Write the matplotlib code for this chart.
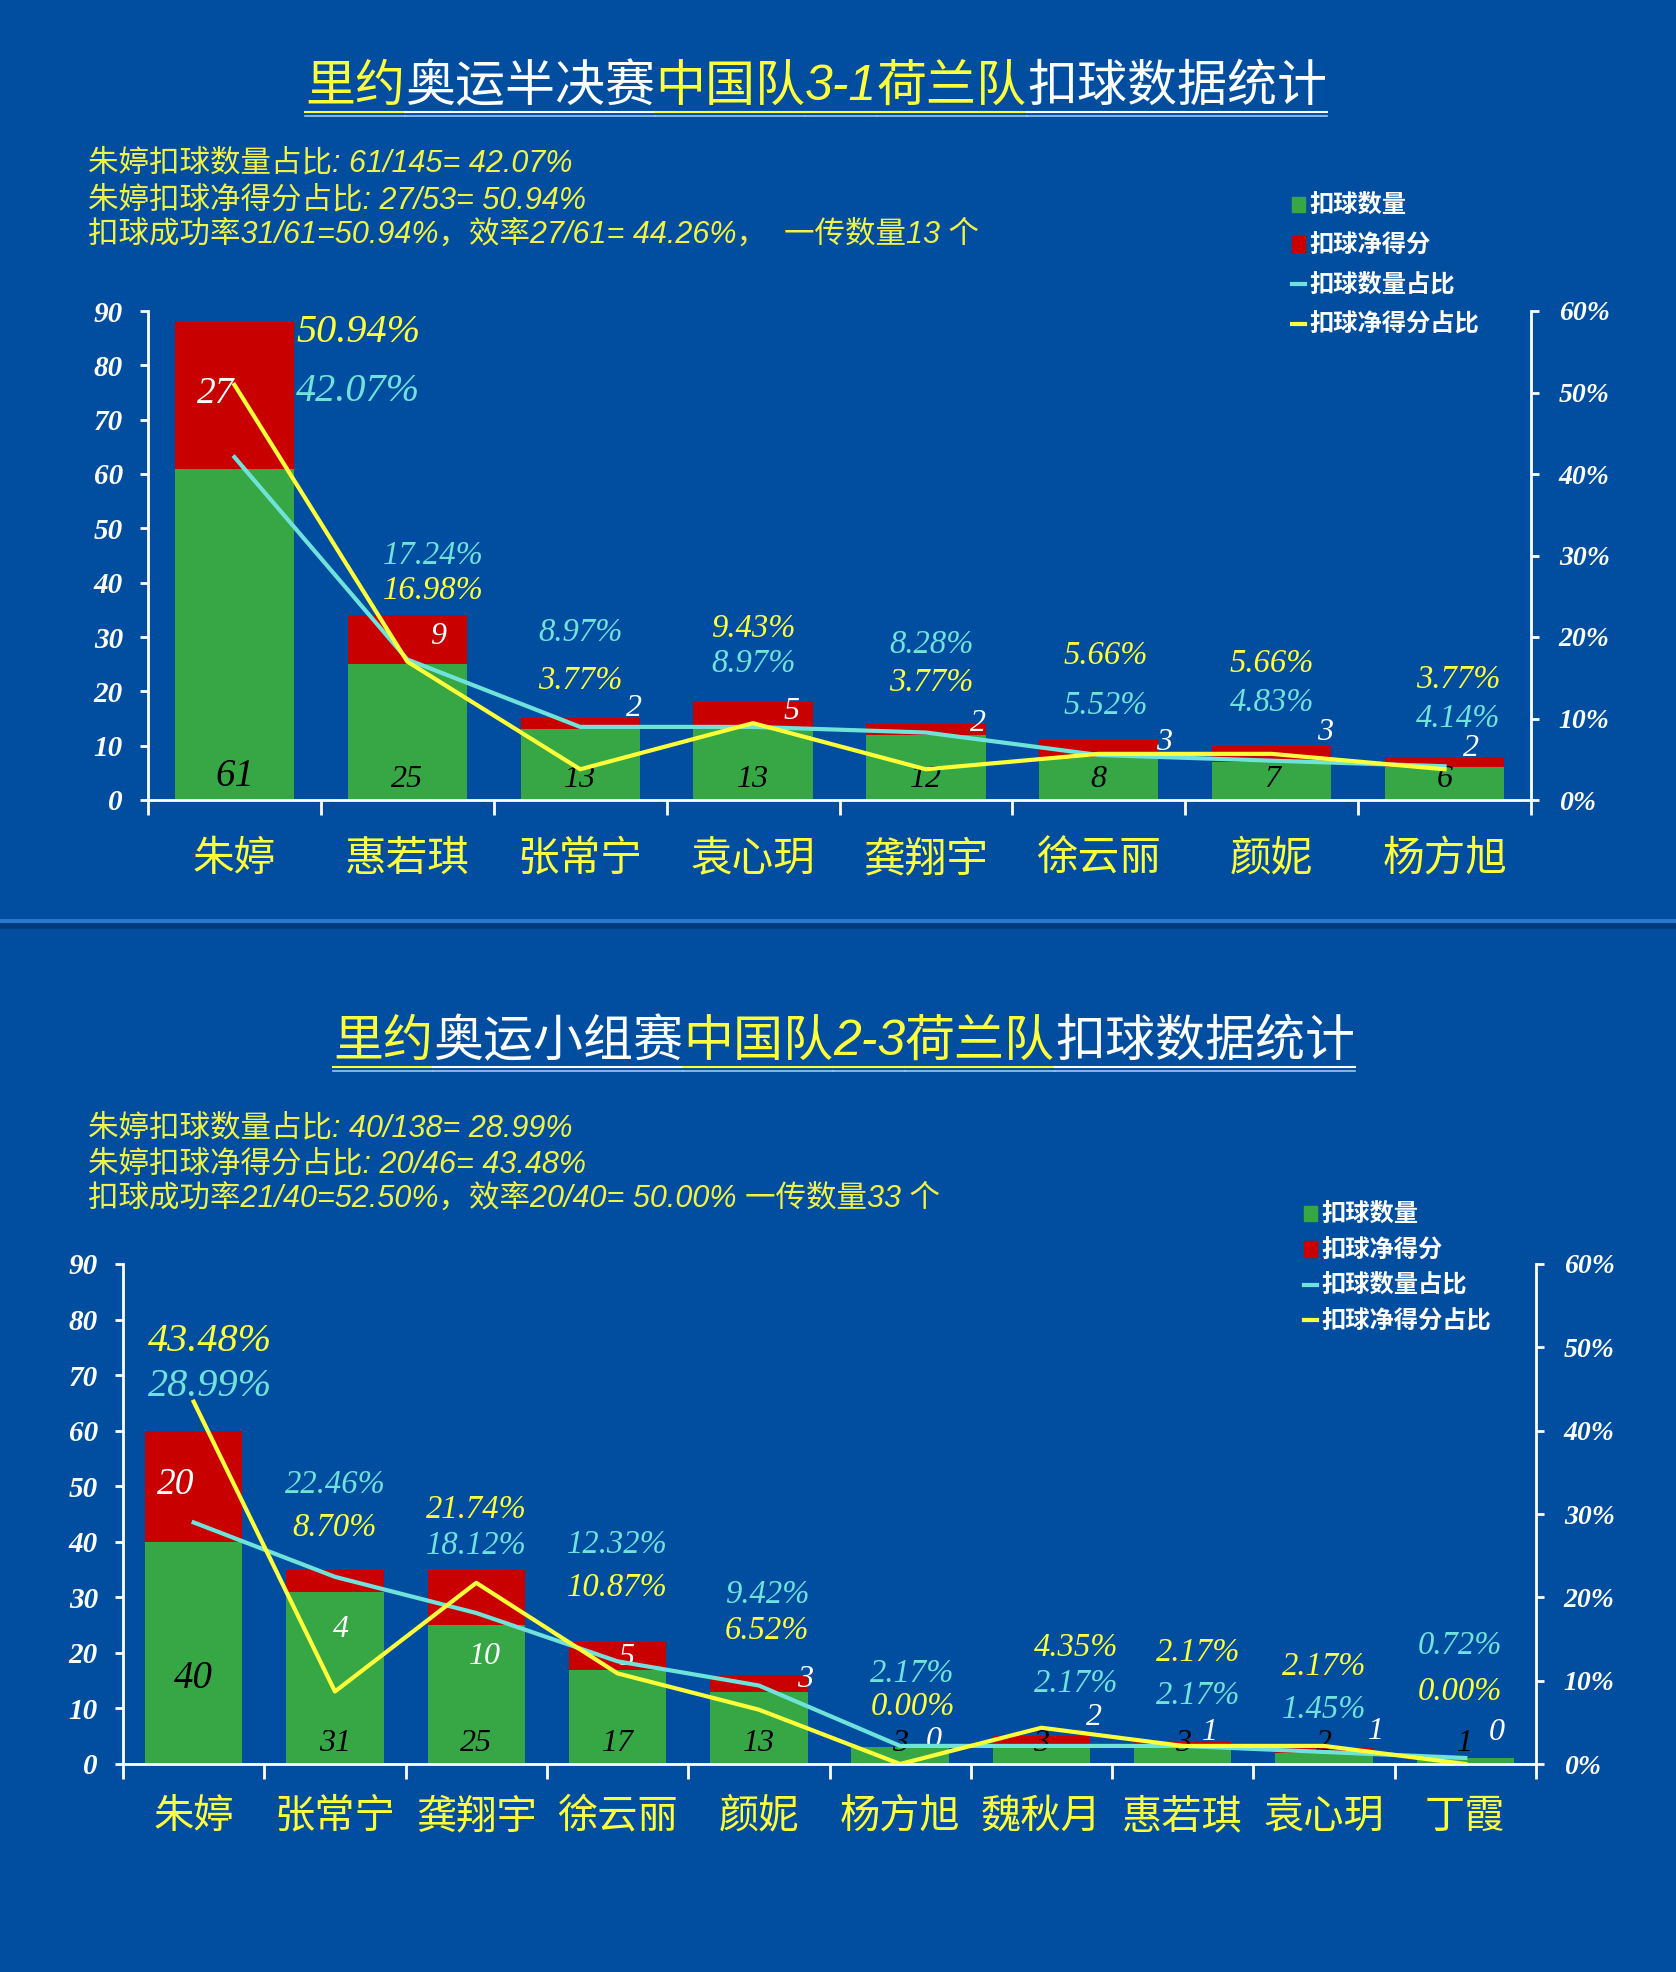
import numpy as np
import matplotlib.pyplot as plt
from matplotlib import font_manager
from matplotlib.patches import Patch
from matplotlib.lines import Line2D

# semifinal, China 3-1 Netherlands
semi_players = ['朱婷', '惠若琪', '张常宁', '袁心玥', '龚翔宇', '徐云丽', '颜妮', '杨方旭']
semi_spikes = [61, 25, 13, 13, 12, 8, 7, 6]
semi_points = [27, 9, 2, 5, 2, 3, 3, 2]
semi_spike_share = [42.07, 17.24, 8.97, 8.97, 8.28, 5.52, 4.83, 4.14]
semi_point_share = [50.94, 16.98, 3.77, 9.43, 3.77, 5.66, 5.66, 3.77]

# group stage, China 2-3 Netherlands
group_players = ['朱婷', '张常宁', '龚翔宇', '徐云丽', '颜妮', '杨方旭', '魏秋月', '惠若琪', '袁心玥', '丁霞']
group_spikes = [40, 31, 25, 17, 13, 3, 3, 3, 2, 1]
group_points = [20, 4, 10, 5, 3, 0, 2, 1, 1, 0]
group_spike_share = [28.99, 22.46, 18.12, 12.32, 9.42, 2.17, 2.17, 2.17, 1.45, 0.72]
group_point_share = [43.48, 8.70, 21.74, 10.87, 6.52, 0.00, 4.35, 2.17, 2.17, 0.00]

semi_notes = ['朱婷扣球数量占比: 61/145= 42.07%',
              '朱婷扣球净得分占比: 27/53= 50.94%',
              '扣球成功率31/61=50.94%，效率27/61= 44.26%，  一传数量13 个']
group_notes = ['朱婷扣球数量占比: 40/138= 28.99%',
               '朱婷扣球净得分占比: 20/46= 43.48%',
               '扣球成功率21/40=52.50%，效率20/40= 50.00% 一传数量33 个']

legend_labels = ['扣球数量', '扣球净得分', '扣球数量占比', '扣球净得分占比']

BG = '#014EA1'
GREEN = '#37A745'
RED = '#C80000'
CYAN = '#6FE3DA'
YELLOW = '#FFFF3A'
NOTE_Y = '#F2F244'

names = {f.name for f in font_manager.fontManager.ttflist}
NARROW = 'Liberation Sans Narrow' if 'Liberation Sans Narrow' in names else 'Liberation Sans'
CJK = 'Noto Sans CJK SC'
SERIF = 'Liberation Serif'

W, H = 1676, 1972
fig = plt.figure(figsize=(W / 100, H / 100), dpi=100, facecolor=BG)


def fx(px):
    return px / W


def fy(py):
    return 1 - py / H


def chart(rect, players, spikes, points, sshare, pshare, red_pos, pct_pos,
          big_green_y, xsize, xpad, swap=()):
    n = len(players)
    x = np.arange(n)
    spikes = np.array(spikes)
    points = np.array(points)
    top = spikes + points

    ax = fig.add_axes(rect)
    ax.set_facecolor('none')
    ax.bar(x, spikes, width=0.69, color=GREEN, zorder=2)
    ax.bar(x, points, bottom=spikes, width=0.69, color=RED, zorder=2)
    ax.set_xlim(-0.5, n - 0.5)
    ax.set_ylim(0, 90)
    ax.set_yticks(range(0, 91, 10))
    ax.set_xticks(x)
    ax.set_xticklabels(players, family=CJK, fontsize=xsize, color=YELLOW)
    ax.set_xticks(np.arange(-0.5, n), minor=True)
    ax.tick_params(axis='x', which='major', length=0, pad=xpad)
    ax.tick_params(axis='x', which='minor', length=11, width=2, color='white')
    ax.tick_params(axis='y', length=6, width=2, color='white', pad=12, labelcolor='white')
    for lab in ax.get_yticklabels():
        lab.set(family=SERIF, style='italic', weight='bold', fontsize=21)
    for s in ['top', 'right']:
        ax.spines[s].set_visible(False)
    for s in ['left', 'bottom']:
        ax.spines[s].set(color='white', linewidth=2)

    ax2 = ax.twinx()
    ax2.set_ylim(0, 0.6)
    ticks = np.arange(0, 0.61, 0.1)
    ax2.set_yticks(ticks)
    ax2.set_yticklabels([f'{round(t * 100)}%' for t in ticks])
    ax2.tick_params(axis='y', length=6, width=2, color='white', pad=14, labelcolor='white')
    for lab in ax2.get_yticklabels():
        lab.set(family=SERIF, style='italic', weight='bold', fontsize=20)
    for s in ['top', 'left', 'bottom']:
        ax2.spines[s].set_visible(False)
    ax2.spines['right'].set(color='white', linewidth=2)
    ax2.plot(x, np.array(sshare) / 100, color=CYAN, lw=3)
    ax2.plot(x, np.array(pshare) / 100, color=YELLOW, lw=3)

    lab_kw = dict(family=SERIF, style='italic', ha='center', va='center', zorder=4)
    for i, v in enumerate(spikes):
        if i == 0:
            ax.text(i, big_green_y, str(v), color='black', fontsize=28, **lab_kw)
        else:
            ax.text(i, 3.7, str(v), color='black', fontsize=23, **lab_kw)
    for i, (dx, dy) in enumerate(red_pos):
        ax.text(i + dx, top[i] + dy, str(points[i]), color='white',
                fontsize=27 if i == 0 else 23, **lab_kw)

    for i in range(n):
        cyan_lab = (f'{sshare[i]:.2f}%', CYAN)
        yel_lab = (f'{pshare[i]:.2f}%', YELLOW)
        yellow_up = pshare[i] >= sshare[i]
        if i in swap:
            yellow_up = not yellow_up
        upper, lower = (yel_lab, cyan_lab) if yellow_up else (cyan_lab, yel_lab)
        dx, up_dy, low_dy = pct_pos[i]
        size = 29 if i == 0 else 23.5
        for (txt, col), dy in [(upper, up_dy), (lower, low_dy)]:
            ax.annotate(txt, (i, top[i]), xytext=(dx, dy), textcoords='offset points',
                        color=col, fontsize=size, **lab_kw)
    return ax


def title(segments, cx, cy):
    texts = []
    for s, c, it in segments:
        t = fig.text(0, fy(cy), s, color=c, fontsize=36, va='center', ha='left',
                     family=['Liberation Sans', CJK] if it else [CJK],
                     style='italic' if it else 'normal')
        texts.append(t)
    r = fig.canvas.get_renderer()
    widths = [t.get_window_extent(r).width for t in texts]
    x0 = cx - sum(widths) / 2
    for t, w, (s, c, it) in zip(texts, widths, segments):
        t.set_x(fx(x0))
        fig.add_artist(Line2D([fx(x0), fx(x0 + w)], [fy(cy + 25)] * 2, color=c, lw=1.5))
        fig.add_artist(Line2D([fx(x0), fx(x0 + w)], [fy(cy + 28.5)] * 2, color='#9CC6F2', lw=1.2))
        x0 += w


def notes(lines, ys):
    for line, y in zip(lines, ys):
        fig.text(fx(88), fy(y), line, family=[NARROW, CJK], style='italic', fontsize=22,
                 color=NOTE_Y, va='center', ha='left')


def legend(x, y, spacing):
    handles = [Patch(color=GREEN), Patch(color=RED),
               Line2D([], [], color=CYAN, lw=3), Line2D([], [], color=YELLOW, lw=3)]
    fig.legend(handles, legend_labels, loc='upper left', bbox_to_anchor=(fx(x), fy(y)),
               frameon=False, prop={'family': CJK, 'size': 17.5, 'weight': 'bold'},
               labelcolor='white', handlelength=0.55, handleheight=0.6, handletextpad=0.15,
               labelspacing=spacing, borderpad=0, borderaxespad=0)


# top chart
chart([fx(148), 1 - 800 / H, fx(1531 - 148), 489 / H],
      semi_players, semi_spikes, semi_points, semi_spike_share, semi_point_share,
      red_pos=[(-0.11, -13.3), (0.18, -4), (0.31, 1.9), (0.22, -1.8), (0.3, 0.1),
               (0.38, -0.4), (0.31, 2.5), (0.15, 1.5)],
      pct_pos=[(89, -8, -50), (19, 43, 18), (0, 62, 27), (0, 53, 28), (4, 57, 30),
               (5, 61, 25), (0, 59, 31), (10, 55, 27)],
      big_green_y=4.4, xsize=30, xpad=28, swap=(7,))

# bottom chart
chart([fx(123), 1 - 1764 / H, fx(1536 - 123), 500 / H],
      group_players, group_spikes, group_points, group_spike_share, group_point_share,
      red_pos=[(-0.125, -9.8), (0.04, -10.8), (0.06, -15.6), (0.06, -2.8), (0.33, -0.8),
               (0.24, 1.3), (0.37, 3.4), (0.19, 1.7), (0.37, 2.9), (0.22, 4.7)],
      pct_pos=[(12, 64, 32), (0, 61, 30), (0, 43, 17), (0, 70, 39), (6, 58, 32),
               (9, 53, 29), (25, 64, 38), (11, 64, 33), (0, 58, 27), (-4, 81, 48)],
      big_green_y=15.4, xsize=29, xpad=23)

title([('里约', YELLOW, False), ('奥运半决赛', 'white', False), ('中国队', YELLOW, False),
       ('3-1', YELLOW, True), ('荷兰队', YELLOW, False), ('扣球数据统计', 'white', False)], 816, 87)
title([('里约', YELLOW, False), ('奥运小组赛', 'white', False), ('中国队', YELLOW, False),
       ('2-3', YELLOW, True), ('荷兰队', YELLOW, False), ('扣球数据统计', 'white', False)], 844, 1042)

notes(semi_notes, [163, 200, 235])
notes(group_notes, [1128, 1164, 1199])

legend(1292, 194, 0.64)
legend(1304, 1203, 0.47)

# divider between the two panels
fig.add_artist(Line2D([0, 1], [fy(921)] * 2, color='#2A78CC', lw=3))
fig.add_artist(Line2D([0, 1], [fy(926)] * 2, color='#003A7C', lw=4))

fig.savefig('out.png', dpi=100, facecolor=BG)
